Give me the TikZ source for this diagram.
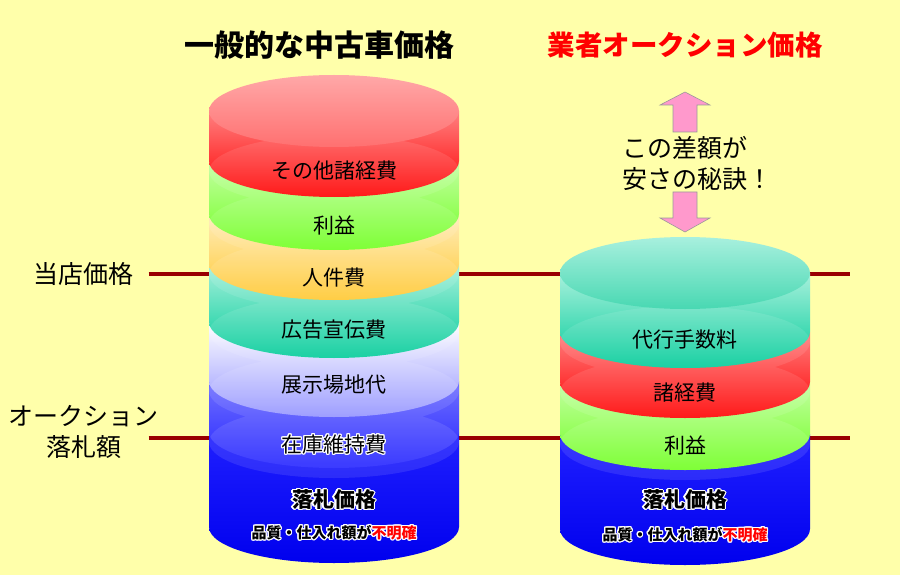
\documentclass[tikz,border=0pt]{standalone}
\usepackage{fontspec}
\newfontfamily\jp{Noto Sans CJK JP}
\usepackage{contour}
\contourlength{1.1pt}
\usetikzlibrary{positioning}

\definecolor{bgyellow}{HTML}{FFFFAA}
\definecolor{linered}{HTML}{990000}
\definecolor{arrowpink}{HTML}{FF99CC}
\definecolor{redtop}{HTML}{FF8080}
\definecolor{redbot}{HTML}{FF0000}
\definecolor{redcap}{HTML}{FFA8A8}
\definecolor{redcapb}{HTML}{FF7070}
\definecolor{greentop}{HTML}{C4FFA4}
\definecolor{greenbot}{HTML}{70FF20}
\definecolor{orangetop}{HTML}{FFEDBC}
\definecolor{orangebot}{HTML}{FFC830}
\definecolor{tealtop}{HTML}{A8F0DC}
\definecolor{tealbot}{HTML}{00CC99}
\definecolor{tealcap}{HTML}{A8F0DE}
\definecolor{tealcapb}{HTML}{48D8B2}
\definecolor{lavtop}{HTML}{FFFFFF}
\definecolor{lavbot}{HTML}{9494FF}
\definecolor{bluetop}{HTML}{7070FF}
\definecolor{bluebot}{HTML}{2424FF}
\definecolor{deeptop}{HTML}{2020FF}
\definecolor{deepbot}{HTML}{0000EE}

\begin{document}
\begin{tikzpicture}[x=1pt, y=-1pt,
  lbl/.style={font=\jp\fontsize{21}{24}\selectfont},
  side/.style={font=\jp\fontsize{25}{31}\selectfont, align=center},
  ttl/.style={font=\jp\bfseries\fontsize{30}{34}\selectfont},
  big/.style={font=\jp\bfseries\fontsize{21}{24}\selectfont},
  small/.style={font=\jp\bfseries\fontsize{15}{18}\selectfont},
  level/.style={line width=4pt, draw=linered},
  rim/.style={x radius=125pt, y radius=36pt},
  ghost/.style={fill=white, fill opacity=0.1},
  pinkarrow/.style={fill=arrowpink, draw=black!40, line width=0.6pt}]
\fill[bgyellow] (0,0) rectangle (900,575);
\useasboundingbox (0,0) rectangle (900,575);

\path (319,45) node[ttl] (ttlshop) {一般的な中古車価格}
(685,45) node[ttl, font=\jp\bfseries\fontsize{27.5}{32}\selectfont, text=red] (ttlauc) {業者オークション価格}
(84,274) node[side] (shop) {当店価格}
(84,432) node[side] (auc) {オークション\\落札額};

\coordinate (shopend) at (850,274);
\coordinate (aucend) at (850,438);
\draw[level] ([xshift=11pt]shop.east) -- (shopend);
\draw[level] ([xshift=11pt]shop.east |- aucend) -- (aucend);

% left stack
\shade[top color=deeptop, bottom color=deepbot] (209,432) -- (209,527) arc[start angle=180, end angle=360, rim] -- (459,432) -- cycle;
\shade[top color=bluetop, bottom color=bluebot] (209,381) -- (209,432) arc[start angle=180, end angle=360, rim] -- (459,381) -- cycle;
\shade[top color=lavtop, bottom color=lavbot] (209,322) -- (209,381) arc[start angle=180, end angle=360, rim] -- (459,322) -- cycle;
\shade[top color=tealtop, bottom color=tealbot] (209,264) -- (209,322) arc[start angle=180, end angle=360, rim] -- (459,264) -- cycle;
\shade[top color=orangetop, bottom color=orangebot] (209,214) -- (209,264) arc[start angle=180, end angle=360, rim] -- (459,214) -- cycle;
\shade[top color=greentop, bottom color=greenbot] (209,161) -- (209,214) arc[start angle=180, end angle=360, rim] -- (459,161) -- cycle;
\shade[top color=redtop, bottom color=redbot] (209,111) -- (209,161) arc[start angle=180, end angle=360, rim] -- (459,111) -- cycle;
\fill[ghost] (334,171) ellipse[rim] (334,224) ellipse[rim] (334,274) ellipse[rim]
  (334,332) ellipse[rim] (334,391) ellipse[rim] (334,442) ellipse[rim];
\shade[top color=redcap, bottom color=redcapb] (334,111) ellipse[rim];

% right stack
\shade[top color=deeptop, bottom color=deepbot] (560,434) -- (560,529) arc[start angle=180, end angle=360, rim] -- (810,434) -- cycle;
\shade[top color=greentop, bottom color=greenbot] (560,382) -- (560,434) arc[start angle=180, end angle=360, rim] -- (810,382) -- cycle;
\shade[top color=redtop, bottom color=redbot] (560,332) -- (560,382) arc[start angle=180, end angle=360, rim] -- (810,332) -- cycle;
\shade[top color=tealtop, bottom color=tealbot] (560,273) -- (560,332) arc[start angle=180, end angle=360, rim] -- (810,273) -- cycle;
\fill[ghost] (685,342) ellipse[rim] (685,392) ellipse[rim] (685,444) ellipse[rim];
\shade[top color=tealcap, bottom color=tealcapb] (685,273) ellipse[rim];

\path (334,171) node[lbl] (lother) {その他諸経費}
(334,226) node[lbl] (lprofit) {利益}
(334,278) node[lbl] (lstaff) {人件費}
(334,330) node[lbl] (lads) {広告宣伝費}
(334,385) node[lbl] (lyard) {展示場地代}
(334,445) node[lbl] (lstock) {\contour{white}{在庫維持費}}
(334,500) node[big] (lbid) {\contour{white}{落札価格}}
(334,533) node[small] (lnote) {\contour{white}{品質・仕入れ額が}{\color{red}\contour{white}{不明確}}}

(685,340) node[lbl] (rfee) {代行手数料}
(685,393) node[lbl] (rcost) {諸経費}
(685,446) node[lbl] (rprofit) {利益}
(685,500) node[big] (rbid) {\contour{white}{落札価格}}
(685,535) node[small] (rnote) {\contour{white}{品質・仕入れ額が}{\color{red}\contour{white}{不明確}}};

% gap arrows
\draw[pinkarrow] (685,92) -- (710,105) -- (697,105) -- (697,132) -- (673,132) -- (673,105) -- (660,105) -- cycle;
\draw[pinkarrow] (673,192) -- (697,192) -- (697,218) -- (710,218) -- (685,232) -- (660,218) -- (673,218) -- cycle;
\node[side, align=left, anchor=west] (secret) at (619,163) {この差額が\\安さの秘訣！};
\end{tikzpicture}
\end{document}
